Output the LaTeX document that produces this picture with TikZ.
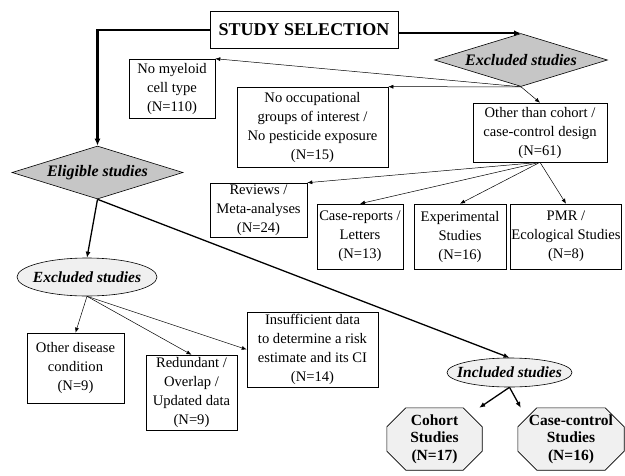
\documentclass[tikz,border=0pt]{standalone}
\usepackage{fontspec}
\setmainfont{Liberation Serif}
\usetikzlibrary{arrows.meta, shapes.geometric, backgrounds}

% octagon drawn behind a named node
\newcommand{\octframe}[2]{%
  \draw[line width=0.6pt, fill=gray!12]
    ([xshift=#2]#1.north west) -- ([xshift=-#2]#1.north east)
    -- ([yshift=-#2]#1.north east) -- ([yshift=#2]#1.south east)
    -- ([xshift=-#2]#1.south east) -- ([xshift=#2]#1.south west)
    -- ([yshift=#2]#1.south west) -- ([yshift=-#2]#1.north west) -- cycle;}

\begin{document}
\begin{tikzpicture}[
    x=1pt, y=-1pt,
    >={Latex[length=5pt, width=4pt]},
    thin arrow/.style={->, line width=0.5pt},
    mid arrow/.style={->, line width=1.3pt, >={Latex[length=6pt, width=5pt]}},
    bold arrow/.style={->, line width=2.2pt, >={Latex[length=7pt, width=6pt]}},
    box/.style={draw, line width=0.6pt, align=center, inner sep=1pt,
      font=\fontsize{14.6}{19}\selectfont},
    decision/.style={diamond, draw, line width=0.6pt, fill=gray!45, inner sep=0pt,
      shape aspect=3.2, font=\fontsize{16}{18}\selectfont\bfseries\itshape},
    oval/.style={ellipse, draw, line width=0.6pt, fill=gray!12, inner ysep=0pt,
      inner xsep=-8pt, font=\fontsize{15.5}{18}\selectfont\bfseries\itshape},
    octo/.style={inner sep=0pt, align=center,
      font=\fontsize{15.5}{17.5}\selectfont\bfseries},
  ]

  % Canvas
  \useasboundingbox (0,0) rectangle (625,475);

  % Title
  \node[draw, line width=0.8pt, minimum width=188pt, minimum height=37pt,
    font=\fontsize{18}{20}\selectfont\bfseries] (title) at (304,30) {STUDY SELECTION};

  % Decisions
  \node[decision, minimum width=173pt, minimum height=53pt] (excl) at (521,60) {Excluded studies};
  \node[decision, minimum width=171pt, minimum height=53pt] (elig) at (97.5,172.5) {Eligible studies};

  % First exclusions
  \node[box, minimum width=86pt, minimum height=59pt] (myeloid) at (172,88.5)
    {No myeloid\\cell type\\(N=110)};
  \node[box, minimum width=151pt, minimum height=80pt] (occup) at (312.5,127)
    {No occupational\\groups of interest /\\No pesticide exposure\\(N=15)};
  \node[box, minimum width=134pt, minimum height=59pt] (design) at (540,132.5)
    {Other than cohort /\\case-control design\\(N=61)};

  % Design breakdown
  \node[box, minimum width=97pt, minimum height=54pt] (reviews) at (258.5,210)
    {Reviews /\\Meta-analyses\\(N=24)};
  \node[box, minimum width=86pt, minimum height=65pt] (casrep) at (360,236.5)
    {Case-reports /\\Letters\\(N=13)};
  \node[box, minimum width=92pt, minimum height=65pt] (exper) at (460,236.5)
    {Experimental\\Studies\\(N=16)};
  \node[box, minimum width=109pt, minimum height=65pt] (pmr) at (566,236.5)
    {PMR /\\Ecological Studies\\(N=8)};

  % Second exclusions
  \node[oval, minimum width=140pt, minimum height=38pt] (exclb) at (87,277) {Excluded studies};
  \node[box, minimum width=97pt, minimum height=70pt] (disease) at (75.5,368)
    {Other disease\\condition\\(N=9)};
  \node[box, minimum width=91pt, minimum height=75pt] (redund) at (191.5,392.5)
    {Redundant /\\Overlap /\\Updated data\\(N=9)};
  \node[box, minimum width=131pt, minimum height=75pt] (insuff) at (312.5,349.5)
    {Insufficient data\\to determine a risk\\estimate and its CI\\(N=14)};

  % Included
  \node[oval, inner xsep=-10pt, minimum width=125pt, minimum height=29pt] (incl) at (509.5,372.5)
    {Included studies};
  \node[octo, minimum width=95pt, minimum height=62pt] (cohort) at (434.5,439)
    {Cohort\\Studies\\(N=17)};
  \node[octo, minimum width=106pt, minimum height=62pt] (cascon) at (571,439)
    {Case-control\\Studies\\(N=16)};
  \begin{scope}[on background layer]
    \octframe{cohort}{19pt}
    \octframe{cascon}{19pt}
  \end{scope}

  % Connectors
  \draw[bold arrow] (title.west) -| (elig.north);
  \draw[bold arrow] (excl.north -| title.east) -- (excl.north);

  \draw[thin arrow] (excl.south) -- (myeloid.north east);
  \draw[thin arrow] (excl.south) -- (occup.north east);
  \draw[thin arrow] (excl.south) -- (design.north);

  \draw[thin arrow] (design.south) -- (reviews.north east);
  \draw[thin arrow] (design.south) -- (casrep.north);
  \draw[thin arrow] (design.south) -- (exper.north);
  \draw[thin arrow] (design.south) -- (pmr.north);

  \draw[mid arrow] (elig.south) -- (exclb.north);
  \draw[mid arrow] (elig.south) -- (incl.north);

  \draw[thin arrow] (exclb.south) -- (disease.north);
  \draw[thin arrow] (exclb.south) -- (redund.north);
  \draw[thin arrow] (exclb.south) -- (insuff.west);

  \draw[mid arrow] (incl.south) -- ([xshift=-3pt]cohort.north east);
  \draw[mid arrow] (incl.south) -- ([xshift=3pt]cascon.north west);

\end{tikzpicture}
\end{document}
